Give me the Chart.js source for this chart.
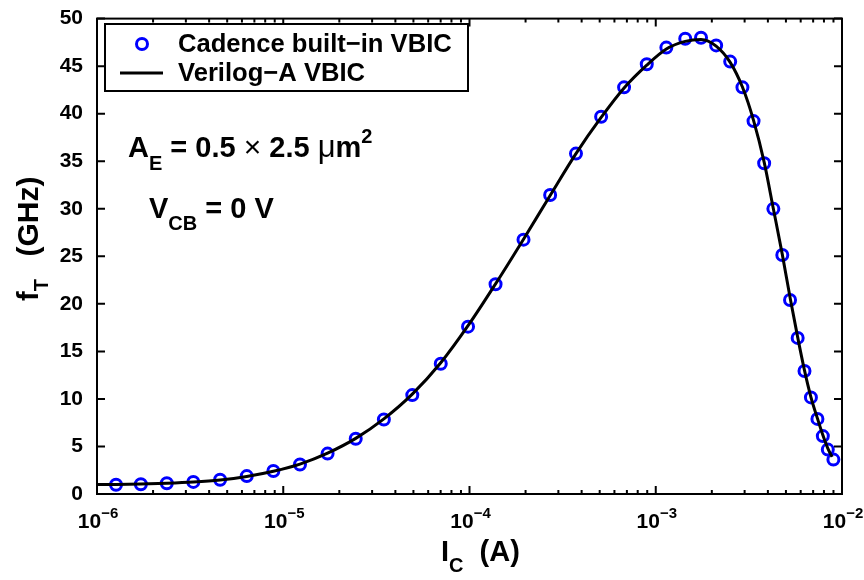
<!DOCTYPE html>
<html>
<head>
<meta charset="utf-8">
<script src="https://cdn.jsdelivr.net/npm/chart.js@4.4.0/dist/chart.umd.min.js"></script>
<style>
  html, body { margin: 0; padding: 0; background: #fff; }
  #wrap { position: relative; width: 864px; height: 580px; }
</style>
</head>
<body>
<div id="wrap"><canvas id="chart"></canvas></div>
<script>
const FONT = '"Liberation Sans", Arial, Helvetica, sans-serif';

// Cadence built-in VBIC (markers)
const cadenceIc = [1.265e-6, 1.72e-6, 2.37e-6, 3.29e-6, 4.58e-6, 6.37e-6, 8.85e-6, 1.23e-5, 1.73e-5, 2.45e-5,
  3.47e-5, 4.93e-5, 7.01e-5, 9.82e-5, 1.38e-4, 1.95e-4, 2.71e-4, 3.73e-4, 5.09e-4, 6.76e-4,
  8.95e-4, 1.14e-3, 1.44e-3, 1.75e-3, 2.11e-3, 2.51e-3, 2.92e-3, 3.35e-3, 3.82e-3, 4.28e-3,
  4.78e-3, 5.26e-3, 5.78e-3, 6.29e-3, 6.81e-3, 7.38e-3, 7.89e-3, 8.39e-3, 8.99e-3];
const cadenceFt = [0.98, 1.03, 1.13, 1.27, 1.5, 1.88, 2.42, 3.1, 4.25, 5.81,
  7.83, 10.4, 13.7, 17.6, 22.06, 26.75, 31.45, 35.8, 39.67, 42.77,
  45.2, 46.95, 47.88, 47.99, 47.18, 45.48, 42.77, 39.22, 34.79, 29.99,
  25.13, 20.4, 16.42, 12.94, 10.16, 7.9, 6.09, 4.67, 3.62];

// Verilog-A VBIC (solid line)
const verilogIc = [1.0e-6, 1.265e-6, 1.72e-6, 2.37e-6, 3.29e-6, 4.58e-6, 6.37e-6, 8.85e-6, 1.23e-5, 1.73e-5,
  2.45e-5, 3.47e-5, 4.93e-5, 7.01e-5, 9.82e-5, 1.38e-4, 1.95e-4, 2.71e-4, 3.73e-4, 5.09e-4,
  6.76e-4, 8.95e-4, 1.14e-3, 1.44e-3, 1.75e-3, 2.11e-3, 2.51e-3, 2.92e-3, 3.35e-3, 3.82e-3,
  4.28e-3, 4.78e-3, 5.28e-3, 5.78e-3, 6.29e-3, 6.81e-3, 7.38e-3, 7.89e-3, 8.39e-3, 8.85e-3];
const verilogFt = [0.99, 1.0, 1.04, 1.12, 1.25, 1.47, 1.85, 2.4, 3.15, 4.3,
  5.85, 7.9, 10.5, 13.8, 17.7, 22.1, 26.8, 31.4, 35.8, 39.6,
  42.7, 45.1, 46.8, 47.6, 47.8, 47.1, 45.4, 42.8, 39.3, 34.9,
  30.0, 25.2, 20.5, 16.5, 13.0, 10.2, 7.95, 6.2, 4.8, 3.9];

const xDecades = [-6, -5, -4, -3, -2];
const yTicks = [0, 5, 10, 15, 20, 25, 30, 35, 40, 45, 50];

const toPoints = (xs, ys) => xs.map((x, i) => ({ x: x, y: ys[i] }));

// draws a run of text pieces (sub/superscripts), returns end x
function drawRich(ctx, x, y, parts) {
  parts.forEach(p => {
    ctx.font = (p.weight || 'bold') + ' ' + p.size + 'px ' + FONT;
    ctx.fillText(p.t, x, y + (p.dy || 0));
    x += ctx.measureText(p.t).width + (p.gap || 0);
  });
  return x;
}
function richWidth(ctx, parts) {
  let w = 0;
  parts.forEach(p => {
    ctx.font = (p.weight || 'bold') + ' ' + p.size + 'px ' + FONT;
    w += ctx.measureText(p.t).width + (p.gap || 0);
  });
  return w;
}

const decor = {
  id: 'decor',
  afterDatasetsDraw(chart) {
    const { ctx, chartArea: a, scales: { x, y } } = chart;
    ctx.save();
    ctx.strokeStyle = '#000';
    ctx.lineWidth = 2;
    ctx.strokeRect(a.left, a.top, a.right - a.left, a.bottom - a.top);

    // x ticks, inward on bottom and top
    ctx.beginPath();
    xDecades.forEach(d => {
      const px = x.getPixelForValue(Math.pow(10, d));
      ctx.moveTo(px, a.bottom); ctx.lineTo(px, a.bottom - 8);
      ctx.moveTo(px, a.top); ctx.lineTo(px, a.top + 8);
      if (d < -2) {
        for (let m = 2; m <= 9; m++) {
          const mx = x.getPixelForValue(m * Math.pow(10, d));
          ctx.moveTo(mx, a.bottom); ctx.lineTo(mx, a.bottom - 4);
          ctx.moveTo(mx, a.top); ctx.lineTo(mx, a.top + 4);
        }
      }
    });
    yTicks.forEach(v => {
      const py = y.getPixelForValue(v);
      ctx.moveTo(a.left, py); ctx.lineTo(a.left + 8, py);
      ctx.moveTo(a.right, py); ctx.lineTo(a.right - 8, py);
    });
    ctx.stroke();

    // x tick labels 10^n
    ctx.fillStyle = '#000';
    ctx.textBaseline = 'alphabetic';
    ctx.textAlign = 'left';
    xDecades.forEach(d => {
      const px = x.getPixelForValue(Math.pow(10, d));
      const parts = [{ t: '10', size: 21 }, { t: '\u2212' + (-d), size: 15, dy: -10 }];
      const w = richWidth(ctx, parts);
      drawRich(ctx, px - w / 2 + 1, a.bottom + 34, parts);
    });
    ctx.restore();
  },
  afterDraw(chart) {
    const { ctx } = chart;
    ctx.save();
    ctx.fillStyle = '#000';
    ctx.textBaseline = 'alphabetic';
    ctx.textAlign = 'left';

    // axis titles
    drawRich(ctx, 441, 561, [
      { t: 'I', size: 29 },
      { t: 'C', size: 20, dy: 11 },
      { t: '  (A)', size: 29 }
    ]);
    ctx.save();
    ctx.translate(38, 301);
    ctx.rotate(-Math.PI / 2);
    drawRich(ctx, 0, 0, [
      { t: 'f', size: 29 },
      { t: 'T', size: 20, dy: 10, gap: 6 },
      { t: '  (GHz)', size: 30 }
    ]);
    ctx.restore();

    // annotations
    drawRich(ctx, 128, 157, [
      { t: 'A', size: 29 },
      { t: 'E', size: 20, dy: 13 },
      { t: ' = 0.5 ', size: 29 },
      { t: '\u00d7', size: 30, weight: 'normal' },
      { t: ' 2.5 ', size: 29 },
      { t: '\u03bc', size: 31, weight: 'normal' },
      { t: 'm', size: 29 },
      { t: '2', size: 20, dy: -14 }
    ]);
    drawRich(ctx, 149, 218, [
      { t: 'V', size: 29 },
      { t: 'CB', size: 20, dy: 12 },
      { t: ' = 0 V', size: 29 }
    ]);

    // legend box
    ctx.fillStyle = '#fff';
    ctx.fillRect(105, 24, 363, 67);
    ctx.strokeStyle = '#000';
    ctx.lineWidth = 2;
    ctx.strokeRect(105, 24, 363, 67);
    ctx.strokeStyle = '#0000ff';
    ctx.lineWidth = 3;
    ctx.beginPath();
    ctx.arc(142, 44, 5.5, 0, Math.PI * 2);
    ctx.stroke();
    ctx.strokeStyle = '#000';
    ctx.lineWidth = 3;
    ctx.beginPath();
    ctx.moveTo(120, 73); ctx.lineTo(163, 73);
    ctx.stroke();
    ctx.fillStyle = '#000';
    drawRich(ctx, 178, 52, [{ t: 'Cadence built\u2212in VBIC', size: 25.6 }]);
    drawRich(ctx, 178, 81, [{ t: 'Verilog\u2212A VBIC', size: 25.6 }]);
    ctx.restore();
  }
};

new Chart(document.getElementById('chart'), {
  type: 'scatter',
  data: {
    datasets: [
      {
        label: 'Verilog-A VBIC',
        data: toPoints(verilogIc, verilogFt),
        showLine: true,
        borderColor: '#000',
        borderWidth: 3,
        pointRadius: 0,
        cubicInterpolationMode: 'monotone',
        order: 0
      },
      {
        label: 'Cadence built-in VBIC',
        data: toPoints(cadenceIc, cadenceFt),
        showLine: false,
        borderColor: '#0000ff',
        backgroundColor: 'rgba(0,0,0,0)',
        borderWidth: 3,
        pointRadius: 5.5,
        pointStyle: 'circle',
        order: 1
      }
    ]
  },
  options: {
    responsive: true,
    maintainAspectRatio: false,
    animation: false,
    devicePixelRatio: 1,
    layout: { padding: { left: 0, top: 15, right: 22, bottom: 0 } },
    plugins: { legend: { display: false }, tooltip: { enabled: false } },
    scales: {
      x: {
        type: 'logarithmic',
        min: 1e-6,
        max: 1e-2,
        grid: { display: false },
        border: { display: false },
        ticks: { display: false },
        afterFit: s => { s.height = 86; }
      },
      y: {
        min: 0,
        max: 50,
        grid: { display: false },
        border: { display: false },
        afterBuildTicks: s => { s.ticks = yTicks.map(v => ({ value: v })); },
        ticks: {
          color: '#000',
          padding: 6,
          font: { family: FONT, size: 21, weight: 'bold' }
        },
        afterFit: s => { s.width = 97; }
      }
    }
  },
  plugins: [decor]
});
</script>
</body>
</html>
